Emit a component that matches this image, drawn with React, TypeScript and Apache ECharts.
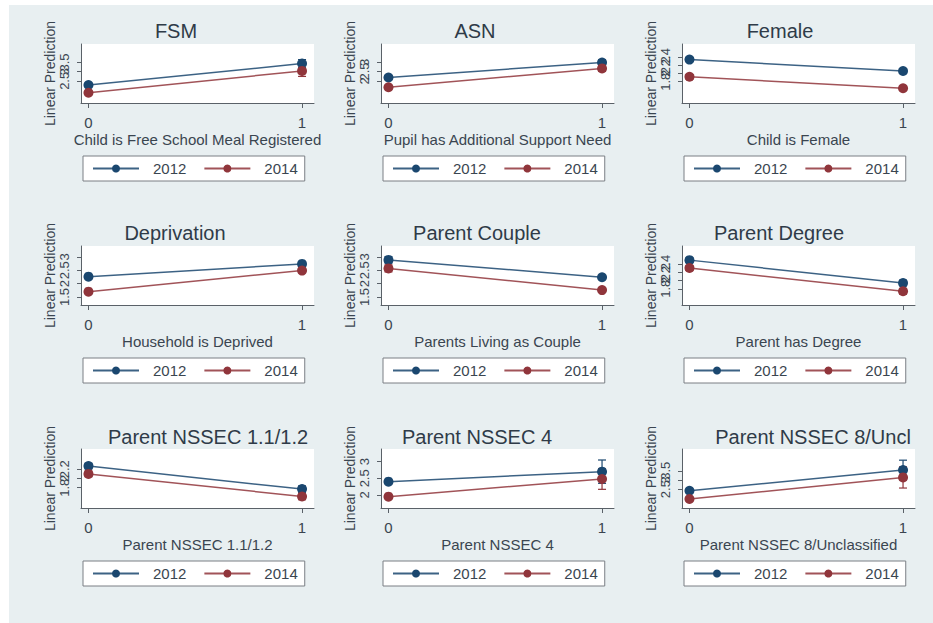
import React, { useEffect, useRef } from "react";
import * as echarts from "echarts";

// ---------- data ----------
const panelTitles = [
  "FSM",
  "ASN",
  "Female",
  "Deprivation",
  "Parent Couple",
  "Parent Degree",
  "Parent NSSEC 1.1/1.2",
  "Parent NSSEC 4",
  "Parent NSSEC 8/Uncl",
];
const xAxisTitles = [
  "Child is Free School Meal Registered",
  "Pupil has Additional Support Need",
  "Child is Female",
  "Household is Deprived",
  "Parents Living as Couple",
  "Parent has Degree",
  "Parent NSSEC 1.1/1.2",
  "Parent NSSEC 4",
  "Parent NSSEC 8/Unclassified",
];
const yAxisTitle = "Linear Prediction";
const years = ["2012", "2014"];
const xValues = [0, 1];
const xTickLabels = [0, 1];

const pred2012 = [
  [2.27, 3.44],
  [2.18, 2.99],
  [2.34, 2.06],
  [2.26, 2.74],
  [2.89, 2.24],
  [2.49, 1.94],
  [2.27, 1.77],
  [2.4, 2.7],
  [2.41, 3.54],
];
const pred2014 = [
  [1.85, 3.04],
  [1.65, 2.67],
  [1.92, 1.64],
  [1.7, 2.49],
  [2.57, 1.76],
  [2.3, 1.74],
  [2.1, 1.61],
  [1.95, 2.48],
  [1.96, 3.14],
];
const ciLow2012 = [
  [2.21, 3.22],
  [2.14, 2.84],
  [2.29, 2.01],
  [2.21, 2.66],
  [2.77, 2.19],
  [2.43, 1.87],
  [2.21, 1.7],
  [2.36, 2.35],
  [2.37, 3.0],
];
const ciHigh2012 = [
  [2.33, 3.66],
  [2.22, 3.14],
  [2.39, 2.11],
  [2.31, 2.82],
  [3.01, 2.29],
  [2.55, 2.01],
  [2.33, 1.84],
  [2.44, 3.05],
  [2.45, 4.08],
];
const ciLow2014 = [
  [1.79, 2.74],
  [1.61, 2.51],
  [1.87, 1.59],
  [1.65, 2.4],
  [2.44, 1.71],
  [2.24, 1.67],
  [2.04, 1.54],
  [1.91, 2.17],
  [1.92, 2.56],
];
const ciHigh2014 = [
  [1.91, 3.34],
  [1.69, 2.83],
  [1.97, 1.69],
  [1.75, 2.58],
  [2.7, 1.81],
  [2.36, 1.81],
  [2.16, 1.68],
  [1.99, 2.79],
  [2.0, 3.72],
];
const yTicks = [
  [2, 2.5, 3, 3.5, 4],
  [1.5, 2, 2.5, 3, 3.5],
  [1.6, 1.8, 2, 2.2, 2.4, 2.6],
  [1.5, 2, 2.5, 3],
  [1.5, 2, 2.5, 3],
  [1.6, 1.8, 2, 2.2, 2.4, 2.6],
  [1.6, 1.8, 2, 2.2, 2.4],
  [2, 2.5, 3],
  [2, 2.5, 3, 3.5, 4],
];
const yMin = [1.29, 0.8, 1.28, 1.2, 1.2, 1.41, 1.36, 1.61, 1.47];
const yMax = [4.51, 3.99, 2.72, 3.41, 3.41, 2.83, 2.64, 3.38, 4.69];

// ---------- layout / style ----------
const ROW_TOP = [44, 246, 449];
const COL_LEFT = [81, 381, 682];
const PLOT_W = 233;
const PLOT_H = 59;
const TITLE_POS = [
  [176, 31],
  [475, 31],
  [780, 31],
  [175, 233],
  [477, 233],
  [779, 233],
  [208, 437],
  [477, 437],
  [813, 437],
];
const COLORS: Record<string, string> = { "2012": "#1a476f", "2014": "#90353b" };
const FONT = "Liberation Sans, Arial, sans-serif";
const TEXT = "#3a4550";
const AXIS = "#5a6168";
const BG = "#e8eff1";

function buildOption() {
  const grid: any[] = [];
  const xAxis: any[] = [];
  const yAxis: any[] = [];
  const legend: any[] = [];
  const series: any[] = [];
  const graphic: any[] = [
    {
      type: "rect",
      z: -100,
      silent: true,
      shape: { x: 9, y: 5, width: 924, height: 618 },
      style: { fill: BG },
    },
  ];

  panelTitles.forEach((title, i) => {
    const r = Math.floor(i / 3);
    const c = i % 3;
    const left = COL_LEFT[c];
    const top = ROW_TOP[r];
    grid.push({
      left,
      top,
      width: PLOT_W,
      height: PLOT_H,
      show: true,
      backgroundColor: "#ffffff",
      borderWidth: 0,
    });
    xAxis.push({
      gridIndex: i,
      type: "value",
      min: -0.035,
      max: 1.056,
      name: xAxisTitles[i],
      nameLocation: "middle",
      nameGap: 29,
      nameTextStyle: { fontSize: 15, color: TEXT, fontFamily: FONT },
      axisLine: { show: true, onZero: false, lineStyle: { color: AXIS, width: 1 } },
      axisTick: { show: true, customValues: xTickLabels, length: 5, lineStyle: { color: AXIS } },
      axisLabel: { customValues: xTickLabels, margin: 12, fontSize: 15, color: TEXT, fontFamily: FONT },
      splitLine: { show: false },
    });
    yAxis.push({
      gridIndex: i,
      type: "value",
      min: yMin[i],
      max: yMax[i],
      name: yAxisTitle,
      nameLocation: "middle",
      nameGap: 22,
      nameRotate: 90,
      nameTextStyle: { fontSize: 14, color: TEXT, fontFamily: FONT },
      axisLine: { show: true, onZero: false, lineStyle: { color: AXIS, width: 1 } },
      axisTick: { show: true, customValues: yTicks[i], length: 4, lineStyle: { color: AXIS } },
      axisLabel: {
        customValues: yTicks[i],
        rotate: 90,
        margin: 10,
        fontSize: 13,
        color: TEXT,
        fontFamily: FONT,
      },
      splitLine: { show: false },
    });
    legend.push({
      left: left + 2,
      top: top + 112,
      orient: "horizontal",
      data: years,
      selectedMode: false,
      backgroundColor: "#ffffff",
      borderColor: "#7a7f84",
      borderWidth: 1,
      borderRadius: 0,
      padding: [5, 7, 5, 9],
      itemWidth: 46,
      itemHeight: 10,
      itemGap: 17,
      textStyle: { fontSize: 15, color: TEXT, fontFamily: FONT, padding: [0, 0, 0, 9] },
    });
    graphic.push({
      type: "text",
      x: TITLE_POS[i][0],
      y: TITLE_POS[i][1],
      silent: true,
      style: {
        text: title,
        fill: "#2f3b48",
        fontSize: 20,
        fontFamily: FONT,
        textAlign: "center",
        textVerticalAlign: "middle",
        align: "center",
        verticalAlign: "middle",
      },
    });

    const ciSets = [
      { year: "2012", low: ciLow2012[i], high: ciHigh2012[i] },
      { year: "2014", low: ciLow2014[i], high: ciHigh2014[i] },
    ];
    ciSets.forEach((cs) => {
      const color = COLORS[cs.year];
      series.push({
        type: "custom",
        name: "CI " + cs.year,
        xAxisIndex: i,
        yAxisIndex: i,
        z: 2,
        silent: true,
        data: xValues.map((x, j) => [x, cs.low[j], cs.high[j]]),
        renderItem: (params: any, api: any) => {
          const x = api.value(0);
          const p1 = api.coord([x, api.value(1)]);
          const p2 = api.coord([x, api.value(2)]);
          const hw = 4;
          const st = { stroke: color, lineWidth: 1.2 };
          return {
            type: "group",
            children: [
              { type: "line", shape: { x1: p1[0], y1: p1[1], x2: p2[0], y2: p2[1] }, style: st },
              { type: "line", shape: { x1: p1[0] - hw, y1: p1[1], x2: p1[0] + hw, y2: p1[1] }, style: st },
              { type: "line", shape: { x1: p2[0] - hw, y1: p2[1], x2: p2[0] + hw, y2: p2[1] }, style: st },
            ],
          };
        },
      });
    });
    const preds: Record<string, number[]> = { "2012": pred2012[i], "2014": pred2014[i] };
    years.forEach((y) => {
      series.push({
        type: "line",
        name: y,
        xAxisIndex: i,
        yAxisIndex: i,
        z: 3,
        data: xValues.map((x, j) => [x, preds[y][j]]),
        symbol: "circle",
        symbolSize: 10,
        showSymbol: true,
        itemStyle: { color: COLORS[y] },
        lineStyle: { color: COLORS[y], width: 1.5, opacity: 0.85 },
      });
    });
  });

  return {
    animation: false,
    backgroundColor: "#ffffff",
    textStyle: { fontFamily: FONT },
    grid,
    xAxis,
    yAxis,
    legend,
    series,
    graphic,
  };
}

export default function App() {
  const ref = useRef<HTMLDivElement>(null);
  useEffect(() => {
    document.body.style.margin = "0";
    if (!ref.current) return;
    const chart = echarts.init(ref.current, undefined, { renderer: "svg" });
    chart.setOption(buildOption() as any);
    return () => chart.dispose();
  }, []);
  return <div ref={ref} style={{ width: 933, height: 623 }} />;
}
